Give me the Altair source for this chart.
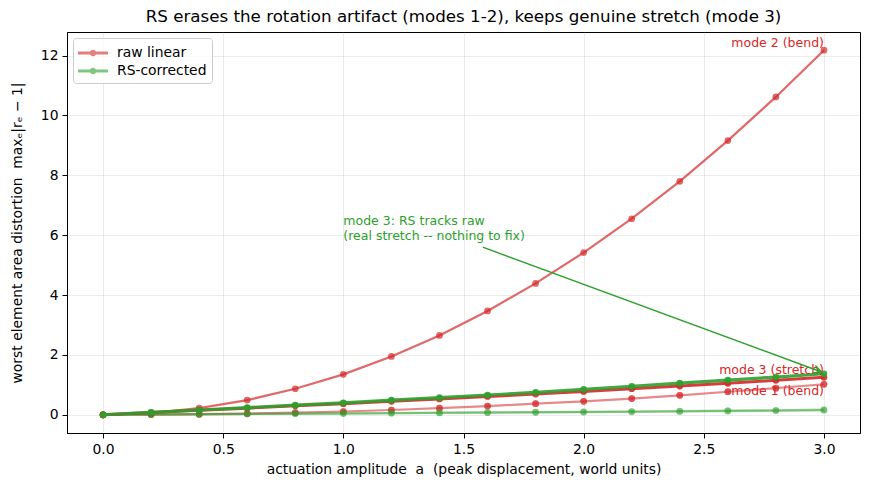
import math
import altair as alt
import pandas as pd

# actuation amplitude a (peak displacement, world units)
amplitude = [0.0, 0.2, 0.4, 0.6, 0.8, 1.0, 1.2, 1.4, 1.6, 1.8, 2.0, 2.2, 2.4, 2.6, 2.8, 3.0]

# worst element area distortion max_e |r_e - 1|
raw_mode1 = [0.0, 0.005, 0.02, 0.04, 0.07, 0.11, 0.16, 0.22, 0.29, 0.37, 0.45, 0.54, 0.65, 0.77, 0.89, 1.02]
raw_mode2 = [0.0, 0.055, 0.22, 0.49, 0.87, 1.35, 1.95, 2.65, 3.47, 4.39, 5.42, 6.55, 7.80, 9.16, 10.62, 12.18]
raw_mode3 = [0.0, 0.075, 0.15, 0.22, 0.30, 0.37, 0.45, 0.53, 0.61, 0.69, 0.78, 0.87, 0.96, 1.05, 1.15, 1.25]
rs_mode1 = [0.0, 0.01, 0.02, 0.03, 0.04, 0.05, 0.06, 0.07, 0.08, 0.09, 0.10, 0.11, 0.12, 0.14, 0.15, 0.17]
rs_mode2 = [0.0, 0.008, 0.016, 0.024, 0.032, 0.04, 0.05, 0.06, 0.07, 0.08, 0.09, 0.10, 0.11, 0.12, 0.135, 0.15]
rs_mode3 = [0.0, 0.08, 0.16, 0.24, 0.32, 0.40, 0.49, 0.57, 0.66, 0.75, 0.85, 0.95, 1.06, 1.16, 1.26, 1.37]

methods = ["raw linear", "RS-corrected"]
RED = "#d62728"
GREEN = "#2ca02c"
FONT = "DejaVu Sans"
NB = "\u00a0"

X_DOMAIN = [-0.15, 3.15]
Y_DOMAIN = [-0.609, 12.789]
W, H = 793, 401

# (values, method, opacity, line width) in drawing order
series = [
    (raw_mode1, "raw linear", 0.55, 2.2),
    (rs_mode1, "RS-corrected", 0.45, 2.2),
    (raw_mode2, "raw linear", 0.7, 2.2),
    (rs_mode2, "RS-corrected", 0.4, 2.2),
    (raw_mode3, "raw linear", 0.9, 3.0),
    (rs_mode3, "RS-corrected", 0.9, 3.2),
]

x_enc = alt.X(
    "a:Q",
    scale=alt.Scale(domain=X_DOMAIN, nice=False, zero=False),
    axis=alt.Axis(
        values=[0.0, 0.5, 1.0, 1.5, 2.0, 2.5, 3.0],
        format=".1f",
        title=f"actuation amplitude {NB}a{NB} (peak displacement, world units)",
        titlePadding=7,
    ),
)
y_enc = alt.Y(
    "v:Q",
    scale=alt.Scale(domain=Y_DOMAIN, nice=False, zero=False),
    axis=alt.Axis(
        values=[0, 2, 4, 6, 8, 10, 12],
        format="d",
        title=f"worst element area distortion {NB}maxₑ|rₑ − 1|",
        titlePadding=16,
    ),
)

# legend glyph: a short line with a dot in the middle
LEGEND_GLYPH = (
    "M-1,-0.14H2V0.14H-1Z"
    "M0.83,0A0.33,0.33 0 1,1 0.17,0A0.33,0.33 0 1,1 0.83,0Z"
)
color_enc = alt.Color(
    "method:N",
    scale=alt.Scale(domain=methods, range=[RED, GREEN]),
    legend=alt.Legend(
        title=None,
        orient="none",
        legendX=6,
        legendY=6,
        symbolType=LEGEND_GLYPH,
        symbolSize=400,
        symbolStrokeWidth=0,
        symbolOpacity=0.6,
        labelOffset=19,
        labelFontSize=13.9,
        labelFont=FONT,
        labelColor="black",
        rowPadding=1,
        padding=5,
        cornerRadius=3,
        strokeColor="#cccccc",
        fillColor="rgba(255,255,255,0.8)",
    ),
)


def frame(values, method):
    return pd.DataFrame({"a": amplitude, "v": values, "method": method})


layers = []
# first layer carries the legend (filled points)
first_vals, first_method, first_op, _ = series[0]
layers.append(
    alt.Chart(frame(first_vals, first_method))
    .mark_point(filled=True, size=45, opacity=first_op, strokeWidth=0)
    .encode(x=x_enc, y=y_enc, color=color_enc)
)
for vals, method, op, lw in series:
    df = frame(vals, method)
    layers.append(
        alt.Chart(df)
        .mark_line(opacity=op, strokeWidth=lw)
        .encode(x=x_enc, y=y_enc, color=color_enc)
    )
    layers.append(
        alt.Chart(df)
        .mark_point(filled=True, size=45, opacity=op, strokeWidth=0)
        .encode(x=x_enc, y=y_enc, color=color_enc)
    )

# mode labels at the right end of the raw curves
labels = pd.DataFrame({
    "a": [3.0, 3.0, 3.0],
    "v": [raw_mode2[-1], raw_mode3[-1], raw_mode1[-1]],
    "text": ["mode 2 (bend)", "mode 3 (stretch)", "mode 1 (bend)"],
})
for i, base in enumerate(["bottom", "bottom", "top"]):
    layers.append(
        alt.Chart(labels.iloc[[i]])
        .mark_text(align="right", baseline=base, font=FONT, fontSize=12.5, color=RED, dy=1 if base == "top" else 0)
        .encode(x=x_enc, y=y_enc, text="text:N")
    )

# callout for mode 3
note = pd.DataFrame({"a": [1.0], "v": [6.24], "text": [["mode 3: RS tracks raw", "(real stretch -- nothing to fix)"]]})
layers.append(
    alt.Chart(note)
    .mark_text(align="left", baseline="bottom", font=FONT, fontSize=12.5, lineHeight=15, color=GREEN)
    .encode(x=x_enc, y=y_enc, text="text")
)

arrow_start = (1.58, 5.6)
arrow_end = (2.99, 1.43)
arrow = pd.DataFrame({"a": [arrow_start[0]], "v": [arrow_start[1]], "a2": [arrow_end[0]], "v2": [arrow_end[1]]})
layers.append(
    alt.Chart(arrow)
    .mark_rule(color=GREEN, strokeWidth=1.4)
    .encode(x=x_enc, y=y_enc, x2="a2:Q", y2="v2:Q")
)
px_x = W / (X_DOMAIN[1] - X_DOMAIN[0])
px_y = H / (Y_DOMAIN[1] - Y_DOMAIN[0])
dx = (arrow_end[0] - arrow_start[0]) * px_x
dy = (arrow_start[1] - arrow_end[1]) * px_y
head_angle = 90 + math.degrees(math.atan2(dy, dx))
head = pd.DataFrame({"a": [arrow_end[0]], "v": [arrow_end[1]]})
layers.append(
    alt.Chart(head)
    .mark_point(shape="M-0.5,1L0,0L0.5,1", filled=False, size=256, angle=head_angle,
                color=GREEN, strokeWidth=1.4, opacity=1)
    .encode(x=x_enc, y=y_enc)
)

chart = (
    alt.layer(*layers)
    .properties(
        width=W,
        height=H,
        title=alt.TitleParams(
            "RS erases the rotation artifact (modes 1-2), keeps genuine stretch (mode 3)",
            font=FONT, fontSize=16.7, fontWeight="normal", color="black", offset=6,
        ),
        autosize=alt.AutoSizeParams(type="none"),
        padding={"left": 67, "top": 32, "right": 9, "bottom": 57},
    )
    .configure(font=FONT, background="white")
    .configure_view(stroke="black", strokeWidth=1)
    .configure_axis(
        labelFont=FONT, labelFontSize=13.9, labelColor="black",
        titleFont=FONT, titleFontSize=13.9, titleColor="black", titleFontWeight="normal",
        domainColor="black", domainWidth=1,
        tickColor="black", tickSize=5, tickWidth=1,
        labelPadding=4,
        gridColor="#b0b0b0", gridOpacity=0.3, gridWidth=0.8,
    )
)

chart.save("out.html", embed_options={"renderer": "svg", "actions": False})
